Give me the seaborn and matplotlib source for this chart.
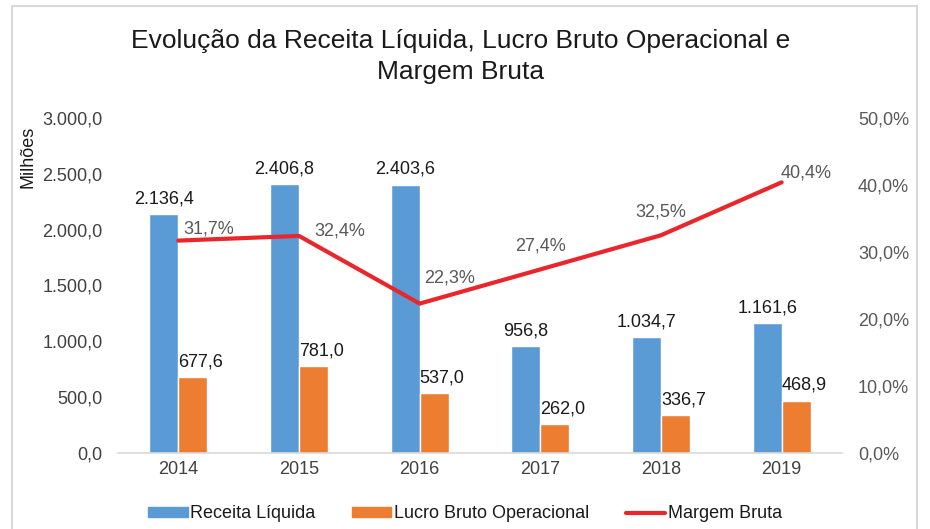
#!/usr/bin/env python3
import numpy as np
import pandas as pd
import matplotlib.pyplot as plt
import matplotlib.patches as mpatches
from matplotlib.lines import Line2D
import seaborn as sns

# dados
anos = ['2014', '2015', '2016', '2017', '2018', '2019']
receita_liquida = [2136.4, 2406.8, 2403.6, 956.8, 1034.7, 1161.6]
lucro_bruto = [677.6, 781.0, 537.0, 262.0, 336.7, 468.9]
margem_bruta = [0.317, 0.324, 0.223, 0.274, 0.325, 0.404]

series_nomes = ['Receita Líquida', 'Lucro Bruto Operacional']
cores = ['#5B9BD5', '#ED7D31']
cor_linha = '#E8262B'


def fmt_br(v, casas=1):
    s = f"{v:,.{casas}f}"
    return s.replace(',', '#').replace('.', ',').replace('#', '.')


def main():
    df = pd.DataFrame({
        'ano': anos * 2,
        'valor': receita_liquida + lucro_bruto,
        'serie': [series_nomes[0]] * len(anos) + [series_nomes[1]] * len(anos),
    })

    sns.set_theme(style="white")
    plt.rcParams['font.family'] = ['Liberation Sans', 'DejaVu Sans']

    fig = plt.figure(figsize=(9.3, 5.29), dpi=100)
    ax = fig.add_axes([118 / 930, 1 - 453 / 529, (842 - 118) / 930, (453 - 118) / 529])

    sns.barplot(data=df, x='ano', y='valor', hue='serie', palette=cores,
                width=0.48, gap=0, saturation=1, legend=False, ax=ax)

    ax.set_ylim(0, 3000)
    ax.set_xlim(-0.5, len(anos) - 0.5)
    ax.set_yticks(np.arange(0, 3001, 500))
    ax.set_yticklabels([fmt_br(v) for v in np.arange(0, 3001, 500)])
    ax.set_xlabel('')
    ax.set_ylabel('')
    ax.tick_params(axis='y', labelsize=13, colors='#404040', length=0, pad=11)
    ax.tick_params(axis='x', labelsize=13, colors='#404040', length=0, pad=6)
    for s in ['top', 'left', 'right']:
        ax.spines[s].set_visible(False)
    ax.spines['bottom'].set_color('#D9D9D9')
    ax.spines['bottom'].set_linewidth(1.2)

    # rótulos das barras
    x = np.arange(len(anos))
    for i in range(len(anos)):
        ax.text(x[i] - 0.12, receita_liquida[i] + 60, fmt_br(receita_liquida[i]),
                ha='center', va='bottom', fontsize=13, color='#1a1a1a')
        ax.text(x[i], lucro_bruto[i] + 60, fmt_br(lucro_bruto[i]),
                ha='left', va='bottom', fontsize=13, color='#1a1a1a')

    # eixo secundário
    ax2 = ax.twinx()
    sns.lineplot(x=x, y=margem_bruta, ax=ax2, color=cor_linha, linewidth=3)
    ax2.set_ylim(0, 0.5)
    ax2.set_yticks(np.arange(0, 0.51, 0.1))
    ax2.set_yticklabels([fmt_br(v * 100) + '%' for v in np.arange(0, 0.51, 0.1)])
    ax2.tick_params(axis='y', labelsize=13, colors='#595959', length=0, pad=11.5)
    for s in ['top', 'left', 'right', 'bottom']:
        ax2.spines[s].set_visible(False)

    offsets = [(0.25, 0.018), (0.34, 0.008), (0.25, 0.038), (0.0, 0.035), (0.0, 0.035), (0.2, 0.014)]
    for i, (dx, dy) in enumerate(offsets):
        ax2.text(x[i] + dx, margem_bruta[i] + dy, fmt_br(margem_bruta[i] * 100) + '%',
                 ha='center', va='center', fontsize=13, color='#595959')

    # título e rótulo
    fig.text(0.495, 1 - 41 / 529, 'Evolução da Receita Líquida, Lucro Bruto Operacional e',
             ha='center', va='center', fontsize=19, color='#1a1a1a')
    fig.text(0.495, 1 - 72 / 529, 'Margem Bruta',
             ha='center', va='center', fontsize=19, color='#1a1a1a')
    fig.text(28 / 930, 1 - 157 / 529, 'Milhões', rotation=90,
             ha='center', va='center', fontsize=13, color='#1a1a1a')

    # legenda
    handles = [mpatches.Patch(color=cores[0], label=series_nomes[0]),
               mpatches.Patch(color=cores[1], label=series_nomes[1]),
               Line2D([0], [0], color=cor_linha, linewidth=3, label='Margem Bruta')]
    fig.legend(handles=handles, loc='center', bbox_to_anchor=(0.5, 1 - 514 / 529),
               ncol=3, frameon=False, fontsize=13, handlelength=2.2, handleheight=0.5,
               handletextpad=0.15, columnspacing=2.0, labelcolor='#1a1a1a')

    # moldura
    fig.patches.append(mpatches.Rectangle((12 / 930, -0.02), (917 - 12) / 930, 1 - 6 / 529 + 0.02,
                                          transform=fig.transFigure, fill=False,
                                          edgecolor='#D9D9D9', linewidth=1.5))

    fig.savefig('out.png', dpi=100)


if __name__ == "__main__":
    main()
